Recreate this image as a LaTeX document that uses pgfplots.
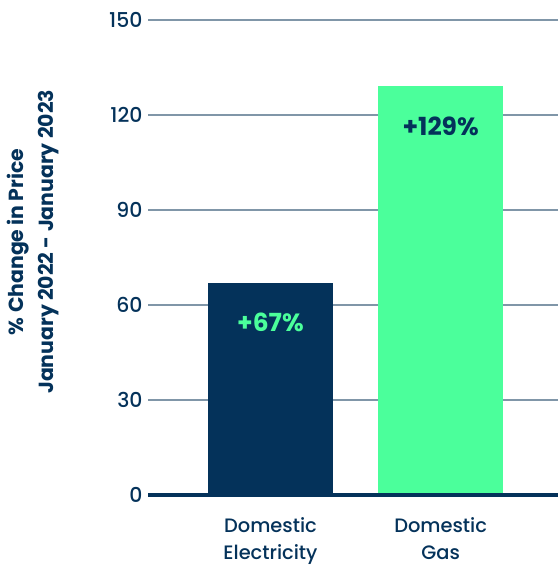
\documentclass[border=0pt]{standalone}
\usepackage{pgfplots}
\pgfplotsset{compat=1.18}
\usepackage{fontspec}
\setmainfont{Poppins}[UprightFont={Poppins Medium}, BoldFont={Poppins Bold}]
\definecolor{navy}{HTML}{04325A}
\definecolor{mint}{HTML}{4BFF9B}
\definecolor{gridc}{HTML}{8096A8}
\begin{document}
\begin{tikzpicture}
\useasboundingbox (0,0) rectangle (558bp,565bp);
\begin{axis}[
  at={(148bp,70bp)}, anchor=south west,
  scale only axis, width=410bp, height=475bp,
  xmin=-0.72, xmax=1.69, ymin=0, ymax=150,
  clip=false,
  axis line style={draw=none},
  tick style={draw=none},
  ytick={0,30,...,150},
  ymajorgrids,
  grid style={gridc, line width=1.5bp},
  xtick={0,1},
  xticklabels={{Domestic\\Electricity},{Domestic\\Gas}},
  xticklabel style={align=center, text=navy, font=\fontsize{19.5}{27}\selectfont, anchor=north, yshift=-19bp},
  /pgf/number format/assume math mode=true,
  yticklabel style={text=navy, font=\fontsize{20.5}{22}\selectfont, anchor=east, xshift=-2bp},
  ylabel={\% Change in Price\\January 2022 - January 2023},
  ylabel style={at={(axis description cs:-0.2805,0.533)}, anchor=center, align=center, text=navy, font=\bfseries\fontsize{20.5}{30}\selectfont},
  bar width=125bp,
  point meta=explicit symbolic,
]
\addplot[ybar, bar shift=0pt, fill=navy, draw=none,
  nodes near coords, every node near coord/.append style={anchor=center, yshift=-39.5bp, text=mint, font=\bfseries\fontsize{25}{28}\selectfont}]
  coordinates {(0,67) [+67\%]};
\addplot[ybar, bar shift=0pt, fill=mint, draw=none,
  nodes near coords, every node near coord/.append style={anchor=center, yshift=-39.5bp, text=navy, font=\bfseries\fontsize{25}{28}\selectfont}]
  coordinates {(1,129) [+129\%]};
\draw[navy, line width=4.5bp] (axis cs:-0.72,0) -- (axis cs:1.69,0);
\end{axis}
\end{tikzpicture}
\end{document}
